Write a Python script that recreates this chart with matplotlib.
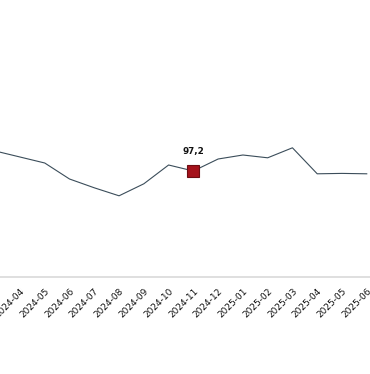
import matplotlib.pyplot as plt
import matplotlib.transforms as mtransforms

months = ["2024-03", "2024-04", "2024-05", "2024-06", "2024-07", "2024-08",
          "2024-09", "2024-10", "2024-11", "2024-12", "2025-01", "2025-02",
          "2025-03", "2025-04", "2025-05", "2025-06"]
values = [102.2, 100.7, 99.2, 95.2, 93.0, 91.0, 94.0, 98.7, 97.2, 100.2,
          101.2, 100.5, 103.0, 96.5, 96.6, 96.5]
highlight = "2024-11"
highlight_label = "97,2"

W, H = 370, 374
fig = plt.figure(figsize=(W / 100, H / 100), dpi=100)

# the reference is a crop of a wider chart, so the axes run past the figure edges
x0_px, step_px = -4.8, 24.77
left_px = x0_px - 0.5 * step_px
right_px = x0_px + 15.5 * step_px
bottom_px = 277
ax = fig.add_axes([left_px / W, 1 - bottom_px / H, (right_px - left_px) / W, bottom_px / H])
ax.set_xlim(-0.5, 15.5)
ax.set_ylim(97.2 - (bottom_px - 171) / 4, 97.2 + 171 / 4)

x = list(range(len(months)))
ax.plot(x, values, color="#3b4d5a", lw=0.8, zorder=2)

hi = months.index(highlight)
ax.plot(hi, values[hi], marker="s", ms=8, color="#a5121b", mec="#6e0d12", mew=0.8, zorder=3)
ax.annotate(highlight_label, (hi, values[hi]), xytext=(0, 14), textcoords="offset points",
            ha="center", va="center", fontsize=6.3, fontweight="bold", color="#111111")

ax.set_xticks(x)
ax.set_xticklabels(months, rotation=45, ha="right", rotation_mode="anchor",
                   fontsize=6.5, color="#111111")
shift = mtransforms.ScaledTranslation(3 / 100, 0, fig.dpi_scale_trans)
for lab in ax.get_xticklabels():
    lab.set_transform(lab.get_transform() + shift)
ax.tick_params(axis="x", length=0, pad=7)
ax.set_yticks([])
for side in ["top", "left", "right"]:
    ax.spines[side].set_visible(False)
ax.spines["bottom"].set_color("#d9d9d9")
ax.spines["bottom"].set_linewidth(1.2)

fig.savefig("out.png", dpi=100)
